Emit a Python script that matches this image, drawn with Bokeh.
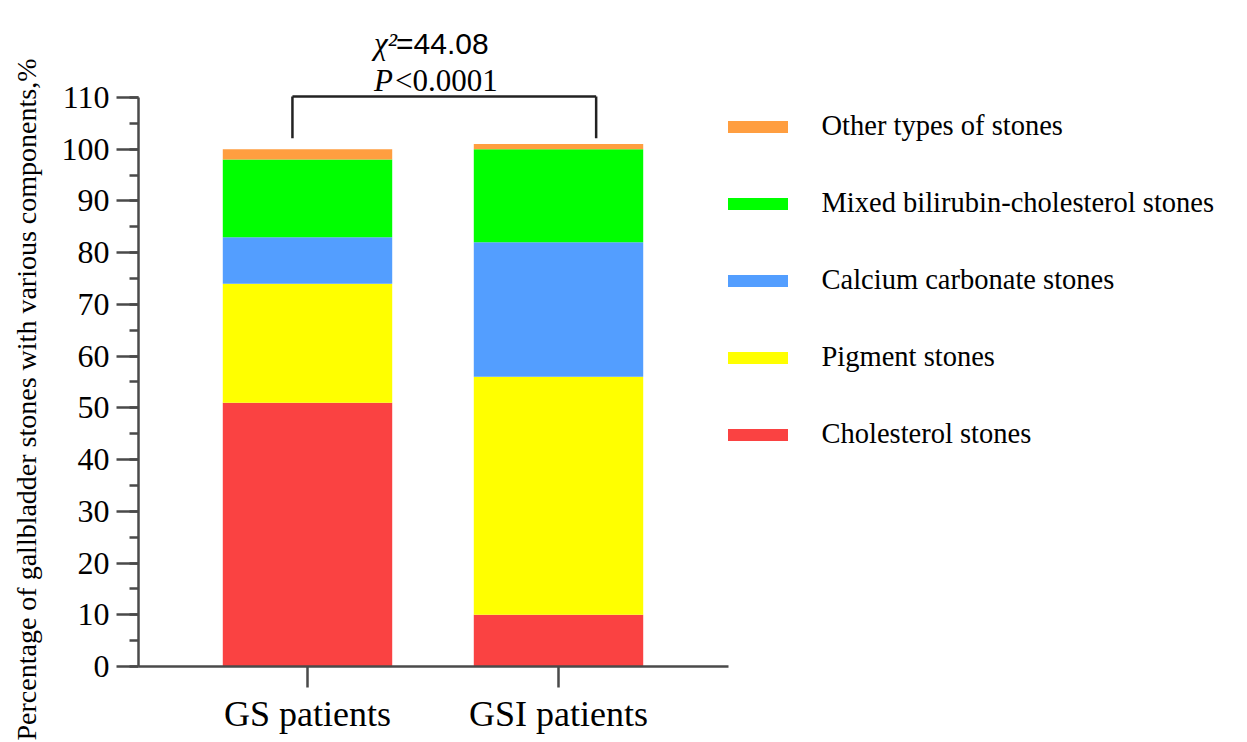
import math
from bokeh.plotting import figure
from bokeh.models import (ColumnDataSource, Range1d, Legend, LegendItem, Label, Arrow,
                          SingleIntervalTicker, FixedTicker)
from bokeh.embed import file_html
from bokeh.resources import INLINE

# ---------------- data ----------------
categories = ["GS patients", "GSI patients"]
components = ["Cholesterol stones", "Pigment stones", "Calcium carbonate stones",
              "Mixed bilirubin-cholesterol stones", "Other types of stones"]
cholesterol = [51, 10]
pigment = [23, 46]
calcium = [9, 26]
mixed = [15, 18]
other = [2, 1]
chi2_text = "=44.08"
p_text = "<0.0001"
y_label = "Percentage of gallbladder stones with various components,%"

colors = ["#FA4242", "#FFFF00", "#539EFF", "#00FF00", "#FF9E40"]
keys = ["cholesterol", "pigment", "calcium", "mixed", "other"]
series = [cholesterol, pigment, calcium, mixed, other]

x_pos = [i + 1 for i in range(len(categories))]
data = {"x": x_pos}
for k, s in zip(keys, series):
    data[k] = s
src = ColumnDataSource(data)

SERIF = "Liberation Serif"
AX = "#4a4a4a"
W, H = 1247, 742

# the frame covers the whole canvas; the axes are drawn at fixed locations
X0, X_AXIS_START, X_AXIS_END, X1 = -0.2231, 0.3267, 2.677, 4.745
Y0, Y_AXIS_END, Y1 = -14.692, 110, 128.75

p = figure(width=W, height=H, output_backend="svg", toolbar_location=None,
           x_range=Range1d(X0, X1), y_range=Range1d(Y0, Y1),
           min_border_left=0, min_border_top=0, min_border_bottom=0,
           min_border_right=0)
p.outline_line_color = None
p.grid.visible = False
p.background_fill_color = "white"

rs = p.vbar_stack(keys, x="x", width=0.675, fill_color=colors, line_color=None,
                  source=src)

# y axis
ya = p.yaxis[0]
ya.fixed_location = X_AXIS_START
ya.bounds = (0, Y_AXIS_END)
ya.ticker = SingleIntervalTicker(interval=10, num_minor_ticks=2)
ya.major_tick_out = 22
ya.major_tick_in = 0
ya.minor_tick_out = 9
ya.minor_tick_in = 0
ya.axis_line_color = AX
ya.major_tick_line_color = AX
ya.minor_tick_line_color = AX
ya.axis_line_width = 2.5
ya.major_tick_line_width = 2.5
ya.minor_tick_line_width = 2.5
ya.major_label_text_font = SERIF
ya.major_label_text_font_size = "32px"
ya.major_label_text_color = "black"
ya.major_label_standoff = 7

# x axis
xa = p.xaxis[0]
xa.fixed_location = 0
xa.bounds = (X_AXIS_START, X_AXIS_END)
xa.ticker = FixedTicker(ticks=x_pos, minor_ticks=[])
xa.major_label_overrides = {x: c for x, c in zip(x_pos, categories)}
xa.major_tick_out = 21
xa.major_tick_in = 0
xa.axis_line_color = AX
xa.major_tick_line_color = AX
xa.axis_line_width = 2.5
xa.major_tick_line_width = 2.5
xa.major_label_text_font = SERIF
xa.major_label_text_font_size = "36px"
xa.major_label_text_color = "black"
xa.major_label_standoff = 6

# y-axis title (screen units from the frame's bottom-left corner)
p.add_layout(Label(x=26, y=H - 399, x_units="screen", y_units="screen",
                   text=y_label, angle=math.pi / 2,
                   text_font=SERIF, text_font_size="28px", text_color="black",
                   text_align="center", text_baseline="middle"))

# legend
items = [LegendItem(label=components[i], renderers=[rs[i]])
         for i in reversed(range(len(components)))]
legend = Legend(items=items, location=(719.5, 742 - 451), orientation="vertical",
                glyph_width=75, glyph_height=15, label_height=34, spacing=43,
                label_standoff=27, padding=0, margin=0,
                border_line_color=None, background_fill_alpha=0,
                label_text_font=SERIF, label_text_font_size="28.5px",
                label_text_color="black")
p.add_layout(legend)

# significance bracket
xl = x_pos[0] - 0.06
xr = x_pos[1] + 0.15
y_top = 110.2
y_bot = 102.1
for (xs, ys, xe, ye) in [(xl, y_bot, xl, y_top), (xl, y_top, xr, y_top), (xr, y_top, xr, y_bot)]:
    p.add_layout(Arrow(end=None, x_start=xs, y_start=ys, x_end=xe, y_end=ye,
                       line_color="#222222", line_width=2.5))

xm = (x_pos[0] + x_pos[1]) / 2
p.add_layout(Label(x=xm, y=120.4, x_offset=-59, text="χ²", text_font=SERIF,
                   text_font_style="italic", text_font_size="31px",
                   text_color="black", text_align="left", text_baseline="alphabetic"))
p.add_layout(Label(x=xm, y=120.4, x_offset=-37, text=chi2_text,
                   text_font="Liberation Sans", text_font_size="30px",
                   text_color="black", text_align="left", text_baseline="alphabetic"))
p.add_layout(Label(x=xm, y=113.3, x_offset=-59, text="P", text_font=SERIF,
                   text_font_style="italic", text_font_size="31px",
                   text_color="black", text_align="left", text_baseline="alphabetic"))
p.add_layout(Label(x=xm, y=113.3, x_offset=-38, text=p_text, text_font=SERIF,
                   text_font_size="31px",
                   text_color="black", text_align="left", text_baseline="alphabetic"))

open("out.html", "w").write(file_html(p, INLINE))
